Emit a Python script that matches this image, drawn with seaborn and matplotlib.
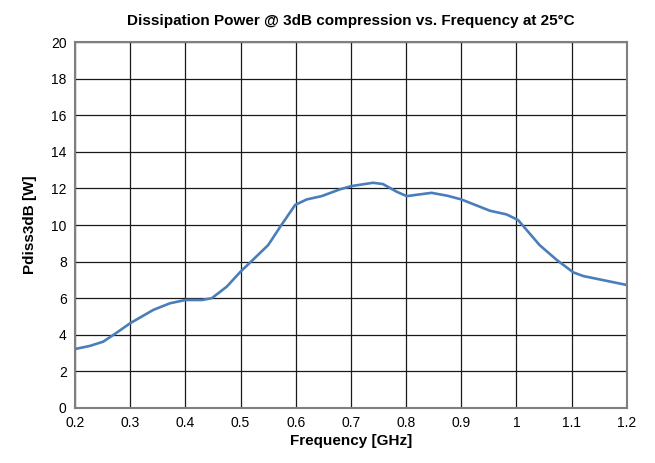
import matplotlib
matplotlib.use('Agg')
import matplotlib.pyplot as plt
import seaborn as sns
import numpy as np
import pandas as pd

# values
freq_ghz = [0.2, 0.227, 0.251, 0.272, 0.3, 0.342, 0.372, 0.4, 0.43, 0.448, 0.475, 0.5,
            0.517, 0.55, 0.574, 0.599, 0.62, 0.647, 0.68, 0.701, 0.74, 0.758, 0.783, 0.801,
            0.846, 0.875, 0.9, 0.952, 0.982, 1.003, 1.042, 1.073, 1.103, 1.121, 1.2]
pdiss_w = [3.22, 3.39, 3.62, 4.04, 4.63, 5.36, 5.72, 5.9, 5.9, 6.0, 6.63, 7.45,
           7.94, 8.9, 10.0, 11.1, 11.4, 11.58, 11.95, 12.13, 12.31, 12.24, 11.82, 11.58,
           11.76, 11.6, 11.4, 10.78, 10.58, 10.27, 8.9, 8.09, 7.41, 7.21, 6.72]

df = pd.DataFrame({'freq': freq_ghz, 'pdiss': pdiss_w})

sns.set_style('white')
plt.rcParams['font.family'] = ['Liberation Sans', 'DejaVu Sans']
plt.rcParams['text.color'] = 'black'
plt.rcParams['axes.labelcolor'] = 'black'
plt.rcParams['xtick.color'] = 'black'
plt.rcParams['ytick.color'] = 'black'

fig, ax = plt.subplots(figsize=(6.55, 4.63), dpi=100)
fig.subplots_adjust(left=0.1145, right=0.957, top=0.909, bottom=0.119)

sns.lineplot(data=df, x='freq', y='pdiss', ax=ax, color='#4a7ebb', linewidth=1.9)

ax.set_xlim(0.2, 1.2)
ax.set_ylim(0, 20)
ax.set_xticks(np.round(np.arange(0.2, 1.21, 0.1), 1))
ax.set_xticklabels(['0.2', '0.3', '0.4', '0.5', '0.6', '0.7', '0.8', '0.9', '1', '1.1', '1.2'])
ax.set_yticks(range(0, 21, 2))
ax.grid(True, color='#1a1a1a', linewidth=0.9)
ax.set_axisbelow(True)
for s in ax.spines.values():
    s.set_color('#7f7f7f')
    s.set_linewidth(1.5)
ax.tick_params(axis='both', labelsize=10, length=0, pad=6)

ax.set_xlabel('Frequency [GHz]', fontsize=11, fontweight='bold', labelpad=3)
ax.set_ylabel('Pdiss3dB [W]', fontsize=11, fontweight='bold', labelpad=10)
ax.set_title('Dissipation Power @ 3dB compression vs. Frequency at 25°C',
             fontsize=11, fontweight='bold', pad=12)

plt.savefig('out.png', dpi=100)
